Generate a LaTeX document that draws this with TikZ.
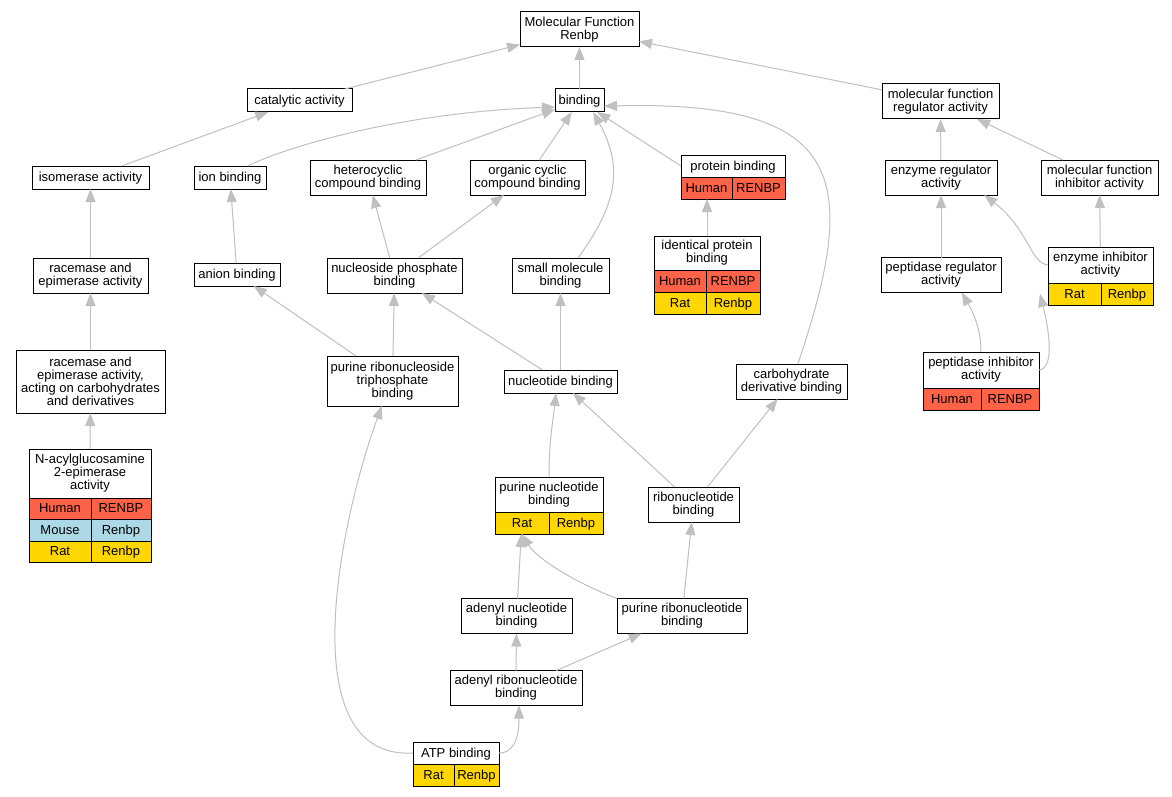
\documentclass[tikz,border=0pt]{standalone}
\usepackage{fontspec}
\setmainfont{Liberation Sans}
\usepackage{tikz}
\usetikzlibrary{arrows.meta, positioning}

\definecolor{human}{RGB}{255,99,71}
\definecolor{mouse}{RGB}{173,216,230}
\definecolor{rat}{RGB}{255,215,0}
\definecolor{edgegray}{RGB}{192,192,192}

\tikzset{
  box/.style={draw, line width=1pt, fill=white, align=center, inner sep=1pt, outer sep=0pt, font=\fontsize{13}{13}\selectfont},
  oneline/.style={text height=10.5, text depth=2.5},
  cell/.style={draw, line width=1pt, inner sep=0pt, outer sep=0pt, minimum height=22, anchor=north west, oneline, font=\fontsize{13}{13}\selectfont},
  l1/.style={minimum height=23, oneline},
  l2/.style={minimum height=35},
  l3/.style={minimum height=50},
  l4/.style={minimum height=63},
  humancell/.style={cell, fill=human},
  mousecell/.style={cell, fill=mouse},
  ratcell/.style={cell, fill=rat},
  edge/.style={draw=edgegray, line width=1pt, -{Triangle[length=13pt,width=10pt]}}
}

\begin{document}
\begin{tikzpicture}[x=1pt,y=1pt,yscale=-1,xscale=1]
\fill[white] (0,0) rectangle (1172,797);
\useasboundingbox (0,0) rectangle (1172,797);

% Text Node
\node[box, l2, minimum width=119] (mf) at (579.5,29.5) {Molecular Function\\Renbp};
\node[box, l1, minimum width=105] (cat) at (299.5,100.5) {catalytic activity};
\node[box, l1, minimum width=49] (bind) at (579.5,100.5) {binding};
\node[box, l2, minimum width=117] (mfra) at (940.5,101.5) {molecular function\\regulator activity};
\node[box, l1, minimum width=117] (iso) at (90.5,177.5) {isomerase activity};
\node[box, l1, minimum width=72] (ion) at (230,177.5) {ion binding};
\node[box, l2, minimum width=116] (het) at (368,177.5) {heterocyclic\\compound binding};
\node[box, l2, minimum width=115] (org) at (527.5,177.5) {organic cyclic\\compound binding};
\node[box, l2, minimum width=112] (er) at (941,177.5) {enzyme regulator\\activity};
\node[box, l2, minimum width=117] (mfi) at (1099.5,177.5) {molecular function\\inhibitor activity};
\node[box, l2, minimum width=115] (rac) at (90.5,275.5) {racemase and\\epimerase activity};
\node[box, l1, minimum width=86] (anion) at (237,274.5) {anion binding};
\node[box, l2, minimum width=135] (nph) at (394.5,275.5) {nucleoside phosphate\\binding};
\node[box, l2, minimum width=97] (smb) at (560.5,275.5) {small molecule\\binding};
\node[box, l2, minimum width=120] (pra) at (941,275) {peptidase regulator\\activity};
\node[box, l4, minimum width=149] (racc) at (90.5,381.5) {racemase and\\epimerase activity,\\acting on carbohydrates\\and derivatives};
\node[box, l3, minimum width=131] (prt) at (392.5,381) {purine ribonucleoside\\triphosphate\\binding};
\node[box, l1, minimum width=113] (nb) at (560.5,381.5) {nucleotide binding};
\node[box, l2, minimum width=111] (cdb) at (791.5,381.5) {carbohydrate\\derivative binding};
\node[box, l2, minimum width=91] (rnb) at (693.5,504.5) {ribonucleotide\\binding};
\node[box, l2, minimum width=111] (anb) at (516.5,616) {adenyl nucleotide\\binding};
\node[box, l2, minimum width=130] (prnb) at (682,616) {purine ribonucleotide\\binding};
\node[box, l2, minimum width=132] (arnb) at (516,688) {adenyl ribonucleotide\\binding};

%Shape: table protein binding
\node[box, oneline, minimum width=104, minimum height=22] (pb) at (733,166) {protein binding};
\node[humancell, minimum width=51] (pbA) at (pb.south west) {Human};
\node[humancell, minimum width=53] (pbB) at (pbA.north east) {RENBP};

%Shape: table identical protein binding
\node[box, minimum width=106, minimum height=34] (ipb) at (707,253) {identical protein\\binding};
\node[humancell, minimum width=52] (ipbA) at (ipb.south west) {Human};
\node[humancell, minimum width=54] (ipbB) at (ipbA.north east) {RENBP};
\node[ratcell, minimum width=52] (ipbC) at (ipbA.south west) {Rat};
\node[ratcell, minimum width=54] (ipbD) at (ipbC.north east) {Renbp};

%Shape: table enzyme inhibitor activity
\node[box, minimum width=105, minimum height=36] (eia) at (1100.5,265) {enzyme inhibitor\\activity};
\node[ratcell, minimum width=53] (eiaA) at (eia.south west) {Rat};
\node[ratcell, minimum width=52] (eiaB) at (eiaA.north east) {Renbp};

%Shape: table peptidase inhibitor activity
\node[box, minimum width=116, minimum height=36] (pia) at (981,370) {peptidase inhibitor\\activity};
\node[humancell, minimum width=58] (piaA) at (pia.south west) {Human};
\node[humancell, minimum width=58] (piaB) at (piaA.north east) {RENBP};

%Shape: table N-acylglucosamine 2-epimerase activity
\node[box, minimum width=122, minimum height=49] (nag) at (90,473.5) {N-acylglucosamine\\2-epimerase\\activity};
\node[humancell, minimum width=62, minimum height=21.5] (nagA) at (nag.south west) {Human};
\node[humancell, minimum width=60, minimum height=21.5] (nagB) at (nagA.north east) {RENBP};
\node[mousecell, minimum width=62, minimum height=21.5] (nagC) at (nagA.south west) {Mouse};
\node[mousecell, minimum width=60, minimum height=21.5] (nagD) at (nagC.north east) {Renbp};
\node[ratcell, minimum width=62, minimum height=21.5] (nagE) at (nagC.south west) {Rat};
\node[ratcell, minimum width=60, minimum height=21.5] (nagF) at (nagE.north east) {Renbp};

%Shape: table purine nucleotide binding
\node[box, minimum width=108, minimum height=35] (pnb) at (549,494.5) {purine nucleotide\\binding};
\node[ratcell, minimum width=54] (pnbA) at (pnb.south west) {Rat};
\node[ratcell, minimum width=54] (pnbB) at (pnbA.north east) {Renbp};

%Shape: table ATP binding
\node[box, oneline, minimum width=86, minimum height=22] (atp) at (456,753) {ATP binding};
\node[ratcell, minimum width=41] (atpA) at (atp.south west) {Rat};
\node[ratcell, minimum width=45] (atpB) at (atpA.north east) {Renbp};

%Straight Lines
\draw[edge] (cat) -- (mf);
\draw[edge] (bind) -- (mf);
\draw[edge] (mfra) -- (mf);
\draw[edge] (iso) -- (cat);
\draw[edge] (het) -- (bind);
\draw[edge] (org) -- (bind);
\draw[edge] (pb.west) -- (bind);
\draw[edge] (er) -- (mfra);
\draw[edge] (mfi) -- (mfra);
\draw[edge] (rac) -- (iso);
\draw[edge] (anion) -- (ion);
\draw[edge] (nph) -- (het);
\draw[edge] (nph) -- (org);
\draw[edge] (ipb) -- (ipb |- pbA.south);
\draw[edge] (pra) -- (er);
\draw[edge] (eia) -- (mfi);
\draw[edge] (racc) -- (rac);
\draw[edge] (prt) -- (nph);
\draw[edge] (prt) -- (anion);
\draw[edge] (nb) -- (nph);
\draw[edge] (nb) -- (smb);
\draw[edge] (nag) -- (racc);
\draw[edge] (rnb) -- (nb);
\draw[edge] (rnb) -- (cdb);
\draw[edge] (anb) -- (pnbA);
\draw[edge] (prnb) -- (rnb);
\draw[edge] (arnb) -- (anb);
\draw[edge] (arnb) -- (prnb);

%Curve Lines
\draw[edge] (ion.33) .. controls +(40,-20) and +(-150,5) .. (bind.195);
\draw[edge] (smb.45) .. controls +(40,-55) and +(30,55) .. (bind.-40);
\draw[edge] (cdb.70) .. controls +(62,-184) and +(244,-6) .. (bind.-13);
\draw[edge] (eia.west) .. controls +(-18,-2) and +(45,35) .. (er.-22);
\draw[edge] (pia.north) .. controls +(0,-25) and +(10,18) .. (pra.-40);
\draw[edge] (pia.east) .. controls +(15,-2) and +(10,40) .. ([xshift=-8pt]eiaA.west);
\draw[edge] (pnb.north) .. controls +(0,-35) and +(-4,35) .. (nb.-111);
\draw[edge] (prnb.north west) .. controls +(-40,-15) and +(15,25) .. (pnbA.south);
\draw[edge] (atp.east) .. controls +(18,0) and +(0,25) .. ([xshift=3pt]arnb.south);
\draw[edge] (atp.west) .. controls +(-123,7) and +(-42,114) .. (prt.-113);

\end{tikzpicture}
\end{document}
